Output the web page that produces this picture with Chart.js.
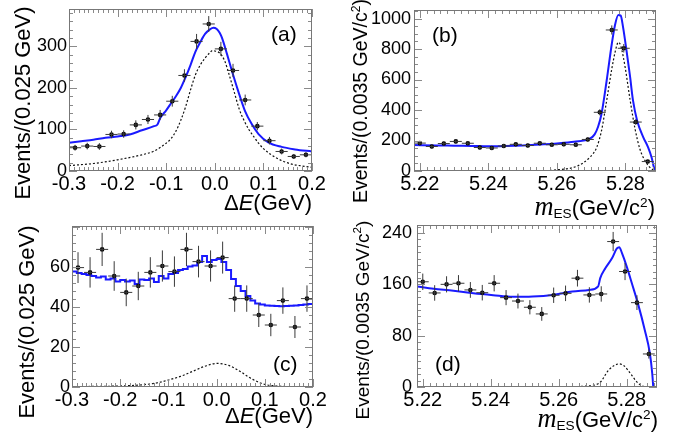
<!DOCTYPE html>
<html><head><meta charset="utf-8">
<script src="https://cdn.jsdelivr.net/npm/chart.js@4.4.1/dist/chart.umd.min.js"></script>
<style>
html,body{margin:0;padding:0;background:#fff;}
body{width:678px;height:437px;position:relative;overflow:hidden;font-family:"Liberation Sans",Arial,sans-serif;color:#000;}
canvas{position:absolute;left:-100px;top:-100px;}
.t{position:absolute;white-space:nowrap;line-height:1;z-index:5;}
.ry{position:absolute;width:0;height:0;z-index:5;}
.ry span{position:absolute;left:0;top:0;white-space:nowrap;line-height:1;transform:translate(-50%,-50%) rotate(-90deg);}
sup{font-size:0.62em;line-height:0;vertical-align:0.6em;}
sub{font-size:0.62em;line-height:0;vertical-align:-0.25em;}
.m{font-family:"Liberation Serif","Times New Roman",serif;font-style:italic;font-size:1.2em;}
</style></head><body>
<canvas id="cA" width="878" height="637"></canvas>
<canvas id="cB" width="878" height="637"></canvas>
<canvas id="cC" width="878" height="637"></canvas>
<canvas id="cD" width="878" height="637"></canvas>

<div class="ry" style="left:23px;top:103px"><span style="font-size:22px">Events/(0.025 GeV)</span></div>
<div class="ry" style="left:361px;top:101px"><span style="font-size:19.5px">Events/(0.0035 GeV/c<sup>2</sup>)</span></div>
<div class="ry" style="left:27px;top:322px"><span style="font-size:22px">Events/(0.025 GeV)</span></div>
<div class="ry" style="left:362px;top:320px"><span style="font-size:19px">Events/(0.0035 GeV/c<sup>2</sup>)</span></div>

<div class="t" style="right:366px;top:192px;font-size:22px">Δ<i>E</i>(GeV)</div>
<div class="t" style="right:23px;top:193px;font-size:22px"><span class="m">m</span><sub>ES</sub>(GeV/c<sup>2</sup>)</div>
<div class="t" style="right:365px;top:405px;font-size:22px">Δ<i>E</i>(GeV)</div>
<div class="t" style="right:20px;top:405px;font-size:22px"><span class="m">m</span><sub>ES</sub>(GeV/c<sup>2</sup>)</div>

<div class="t" style="left:271px;top:23px;font-size:21px">(a)</div>
<div class="t" style="left:432px;top:24px;font-size:21px">(b)</div>
<div class="t" style="left:273px;top:353px;font-size:21px">(c)</div>
<div class="t" style="left:435px;top:353px;font-size:21px">(d)</div>

<script>
// ---------- tick labels ----------
const xTicksDE = [-0.3, -0.2, -0.1, 0.0, 0.1, 0.2];
const xTicksMES = [5.22, 5.24, 5.26, 5.28];
const yTicksA = [0, 100, 200, 300];
const yTicksB = [0, 200, 400, 600, 800, 1000];
const yTicksC = [0, 20, 40, 60];
const yTicksD = [0, 80, 160, 240];

// ---------- bin centres ----------
const deCenters = [-0.2875,-0.2625,-0.2375,-0.2125,-0.1875,-0.1625,-0.1375,-0.1125,-0.0875,-0.0625,
                   -0.0375,-0.0125,0.0125,0.0375,0.0625,0.0875,0.1125,0.1375,0.1625,0.1875];
const mesCenters = [5.2200,5.2235,5.2270,5.2305,5.2340,5.2375,5.2410,5.2445,5.2480,5.2515,
                    5.2550,5.2585,5.2620,5.2655,5.2690,5.2725,5.2760,5.2795,5.2830,5.2865];
const deHalfBin = 0.0125;
const mesHalfBin = 0.00175;

// ---------- panel (a) ----------
const evtsA = [56,60,59,88,89,111,124,135,168,230,312,354,294,242,171,108,73,47,35,39];
const errA  = [7,8,8,9,9,11,11,12,13,15,18,19,17,16,13,10,9,7,6,6];
const fitAx = [-0.3,-0.275,-0.25,-0.225,-0.2,-0.175,-0.15,-0.125,-0.118,-0.112,-0.1,-0.09,-0.08,-0.07,-0.06,-0.05,-0.04,-0.03,-0.02,-0.01,-0.003,0.004,0.01,0.015,0.025,0.035,0.048,0.062,0.076,0.09,0.11,0.1375,0.165,0.2];
const fitAy = [68,71.5,75,80,83,88,98,108,112,128,146,163,180,200,226,255,287,310,330,341,345,342,333,320,282,242,193,145,113,89,69,58,52,47];
const sigAx = [-0.3,-0.25,-0.2,-0.15,-0.125,-0.1,-0.09,-0.08,-0.07,-0.06,-0.05,-0.04,-0.03,-0.02,-0.01,-0.005,0,0.01,0.02,0.03,0.04,0.05,0.06,0.07,0.08,0.09,0.1,0.12,0.14,0.16,0.18,0.2];
const sigAy = [13,18,27,39,48,67,78,96,122,155,195,231,255,272,285,290,289,284,266,230,190,150,122,100,83,67,54,36,24,16,12,9];

// ---------- panel (b) ----------
const evtsB = [183,161,180,194,182,154,151,164,175,167,182,172,175,172,207,385,925,805,321,62];
const errB  = [13,13,13,14,13,12,12,13,13,13,13,13,13,13,14,20,30,28,18,8];
const fitBx = [5.2183,5.225,5.23,5.235,5.24,5.245,5.25,5.255,5.26,5.265,5.2696,5.271,5.272,5.273,5.2745,5.276,5.2769,5.2779,5.2786,5.2793,5.2803,5.2813,5.2822,5.2834,5.2852,5.2866,5.2876,5.2883,5.2888];
const fitBy = [170,168,166,164,162,164,168,174,181,192,212,240,290,374,592,833,953,1023,1019,942,789,625,461,330,221,155,90,24,0];
const sigBx = [5.2183,5.255,5.26,5.2657,5.2696,5.2716,5.273,5.2745,5.276,5.2773,5.2779,5.2786,5.2799,5.2813,5.2828,5.2842,5.2857,5.2871,5.2885];
const sigBy = [0,0,8,30,90,155,264,461,669,811,844,822,680,472,275,144,68,24,0];

// ---------- panel (c) ----------
const evtsC = [59.7,57.3,68.8,55.5,47.3,50.5,57.3,60.5,57.7,68.8,62.7,60.5,64.7,44.2,44.2,36,31,43.2,30,44.2];
const errC  = [7.7,7.6,8.3,7.4,6.9,7.1,7.6,7.8,7.6,8.3,7.9,7.8,8.0,6.6,6.6,6.0,5.6,6.6,5.5,6.6];
const fitCx = [-0.30,-0.29,-0.28,-0.27,-0.26,-0.25,-0.24,-0.23,-0.22,-0.21,-0.20,-0.19,-0.18,-0.17,-0.16,-0.15,-0.14,-0.13,-0.12,-0.11,
               -0.10,-0.09,-0.08,-0.07,-0.06,-0.05,-0.04,-0.03,-0.02,-0.01,0.00,0.01,0.02,0.03,0.04,0.05,0.06,0.07,0.08,0.09,
               0.10,0.11,0.12,0.13,0.14,0.15,0.16,0.17,0.18,0.19,0.20];
const fitCy = [57.7,57,56.5,56,55.5,54.8,55.2,53.8,54.3,52.7,53.5,52.7,53.2,51.5,53.8,53.5,54.3,52.5,55.5,54.3,
               56.5,57,58.5,59,60.2,60.8,62.5,65.5,62.5,63.5,64,62.5,58.5,54,50.5,48,45.5,43.2,41.8,41.2,
               40.8,40.6,40.5,40.4,40.5,40.6,40.8,41,41.3,41.5,41.8];
const sigCx = [-0.3,-0.25,-0.2,-0.15,-0.125,-0.1,-0.075,-0.05,-0.025,0,0.025,0.05,0.065,0.075,0.1,0.125,0.15,0.2];
const sigCy = [0.2,0.3,0.5,1.2,2.0,3.5,5.3,7.8,10.3,11.8,10.8,7.6,5.2,3.8,1.3,0.5,0.2,0.1];

// ---------- panel (d) ----------
const evtsD = [164,146.6,160,161.7,151.3,147,161.7,139.3,134,124.3,113.9,143,146,169.6,143.5,145,226.7,180,131.5,51.5];
const errD  = [12.8,12.1,12.6,12.7,12.3,12.1,12.7,11.8,11.6,11.1,10.7,12,12.1,13,12,12,15,13.4,11.5,7.2];
const fitDx = [5.2183,5.2232,5.229,5.2349,5.2407,5.2465,5.2523,5.2582,5.264,5.2689,5.2716,5.2722,5.2737,5.2757,5.2771,5.2778,5.2786,5.28,5.2815,5.2834,5.2853,5.2868,5.2875,5.2878];
const fitDy = [156.5,153,150,146,143,140.5,141,143.5,148.7,151.3,157,169.6,185,201,216,218,208.6,187.7,161.8,128,89,52.6,21,0];
const sigDx = [5.2183,5.262,5.2669,5.2718,5.2747,5.2762,5.2777,5.2792,5.2803,5.2834,5.2853,5.2878];
const sigDy = [0,0,1,5.7,26.5,33,36,33,26.5,5.7,0.5,0];

// ---------- rendering ----------
Chart.defaults.font.family = '"Liberation Sans", Arial, sans-serif';
Chart.defaults.color = '#000';

function pts(xs, ys) { return xs.map((x, i) => ({ x: x, y: ys[i] })); }

const errorBars = {
  id: 'errorBars',
  afterDatasetsDraw(chart) {
    const { ctx, chartArea: a, scales: { x, y } } = chart;
    ctx.save();
    ctx.beginPath(); ctx.rect(a.left, a.top, a.right - a.left, a.bottom - a.top); ctx.clip();
    ctx.strokeStyle = '#3a3a3a'; ctx.lineWidth = 1;
    chart.data.datasets.forEach(ds => {
      if (!ds.errY) return;
      ds.data.forEach((p, i) => {
        const px = x.getPixelForValue(p.x), py = y.getPixelForValue(p.y);
        const e = ds.errY[i];
        ctx.beginPath();
        ctx.moveTo(px, y.getPixelForValue(p.y + e)); ctx.lineTo(px, y.getPixelForValue(p.y - e));
        ctx.moveTo(x.getPixelForValue(p.x - ds.halfW), py); ctx.lineTo(x.getPixelForValue(p.x + ds.halfW), py);
        ctx.stroke();
      });
    });
    ctx.restore();
  }
};

const frameTicks = {
  id: 'frameTicks',
  afterDraw(chart, args, o) {
    const { ctx, chartArea: a, scales: { x, y } } = chart;
    ctx.save();
    ctx.strokeStyle = '#8a8a8a'; ctx.lineWidth = 1;
    ctx.beginPath();
    const kx0 = Math.ceil(x.min / o.xStep - 1e-6), kx1 = Math.floor(x.max / o.xStep + 1e-6);
    for (let k = kx0; k <= kx1; k++) {
      const px = Math.round(x.getPixelForValue(k * o.xStep)) + 0.5;
      const len = (k % o.xDiv === 0) ? 8 : 4;
      ctx.moveTo(px, a.bottom); ctx.lineTo(px, a.bottom - len);
      ctx.moveTo(px, a.top); ctx.lineTo(px, a.top + len);
    }
    const ky0 = Math.ceil(y.min / o.yStep - 1e-6), ky1 = Math.floor(y.max / o.yStep + 1e-6);
    for (let k = ky0; k <= ky1; k++) {
      const py = Math.round(y.getPixelForValue(k * o.yStep)) + 0.5;
      const len = (k % o.yDiv === 0) ? 8 : 4;
      ctx.moveTo(a.left, py); ctx.lineTo(a.left + len, py);
      ctx.moveTo(a.right, py); ctx.lineTo(a.right - len, py);
    }
    ctx.stroke();
    ctx.strokeStyle = '#777';
    ctx.strokeRect(Math.round(a.left) + 0.5, Math.round(a.top) + 0.5, Math.round(a.right - a.left) - 1, Math.round(a.bottom - a.top) - 1);
    ctx.restore();
  }
};

function makePanel(id, c) {
  const OFF = 100, YW = 60, XH = 60, CW = 878, CH = 637;
  const [L, T, R, B] = c.box;
  new Chart(document.getElementById(id), {
    type: 'scatter',
    data: { datasets: [
      { data: pts(c.sigX, c.sigY), showLine: true, pointRadius: 0, borderColor: '#111', borderWidth: 1.2,
        borderDash: [2, 2], cubicInterpolationMode: 'monotone', order: 3 },
      { data: pts(c.fitX, c.fitY), showLine: true, pointRadius: 0, borderColor: '#1a1aff', borderWidth: 2,
        stepped: c.stepped || false, cubicInterpolationMode: 'monotone', order: 2 },
      { data: pts(c.ptX, c.ptY), errY: c.err, halfW: c.halfW, pointRadius: 2.3, pointBackgroundColor: '#000',
        pointBorderWidth: 0, order: 1 }
    ] },
    options: {
      responsive: false, animation: false, events: [],
      layout: { padding: { left: OFF + L - YW, top: OFF + T, right: CW - OFF - R, bottom: CH - OFF - B - XH } },
      plugins: { legend: { display: false }, tooltip: { enabled: false },
                 frameTicks: { xStep: c.xStep, xDiv: c.xDiv, yStep: c.yStep, yDiv: c.yDiv } },
      scales: {
        x: { type: 'linear', min: c.xMin, max: c.xMax,
             grid: { display: false, drawTicks: false }, border: { display: false },
             afterFit(s) { s.height = XH; },
             afterBuildTicks(s) { s.ticks = c.xTicks.map(v => ({ value: v })); },
             ticks: { font: { size: 20 }, padding: 1, maxRotation: 0, autoSkip: false,
                      callback: v => Number(v).toFixed(c.xDec) } },
        y: { type: 'linear', min: 0, max: c.yMax,
             grid: { display: false, drawTicks: false }, border: { display: false },
             afterFit(s) { s.width = YW; },
             afterBuildTicks(s) { s.ticks = c.yTicks.map(v => ({ value: v })); },
             ticks: { font: { size: 18 }, padding: c.yPad, autoSkip: false,
                      callback: v => Number(v).toFixed(0) } }
      }
    },
    plugins: [errorBars, frameTicks]
  });
}

makePanel('cA', { box: [69, 9, 312, 171], xMin: -0.3, xMax: 0.2, yMax: 390,
  xTicks: xTicksDE, yTicks: yTicksA, xDec: 1, yPad: 2, xStep: 0.01, xDiv: 10, yStep: 20, yDiv: 5,
  ptX: deCenters, ptY: evtsA, err: errA, halfW: deHalfBin,
  fitX: fitAx, fitY: fitAy, sigX: sigAx, sigY: sigAy });

makePanel('cB', { box: [414, 10, 656, 171], xMin: 5.2183, xMax: 5.2889, yMax: 1056,
  xTicks: xTicksMES, yTicks: yTicksB, xDec: 2, yPad: 3, xStep: 0.002, xDiv: 10, yStep: 50, yDiv: 4,
  ptX: mesCenters, ptY: evtsB, err: errB, halfW: mesHalfBin,
  fitX: fitBx, fitY: fitBy, sigX: sigBx, sigY: sigBy });

makePanel('cC', { box: [72, 226, 313, 387], xMin: -0.3, xMax: 0.2, yMax: 80.5,
  xTicks: xTicksDE, yTicks: yTicksC, xDec: 1, yPad: 2, xStep: 0.01, xDiv: 10, yStep: 4, yDiv: 5,
  ptX: deCenters, ptY: evtsC, err: errC, halfW: deHalfBin, stepped: true,
  fitX: fitCx, fitY: fitCy, sigX: sigCx, sigY: sigCy });

makePanel('cD', { box: [417, 225, 657, 387], xMin: 5.2183, xMax: 5.2889, yMax: 252.5,
  xTicks: xTicksMES, yTicks: yTicksD, xDec: 2, yPad: 5, xStep: 0.002, xDiv: 10, yStep: 10, yDiv: 8,
  ptX: mesCenters, ptY: evtsD, err: errD, halfW: mesHalfBin,
  fitX: fitDx, fitY: fitDy, sigX: sigDx, sigY: sigDy });
</script>
</body></html>
